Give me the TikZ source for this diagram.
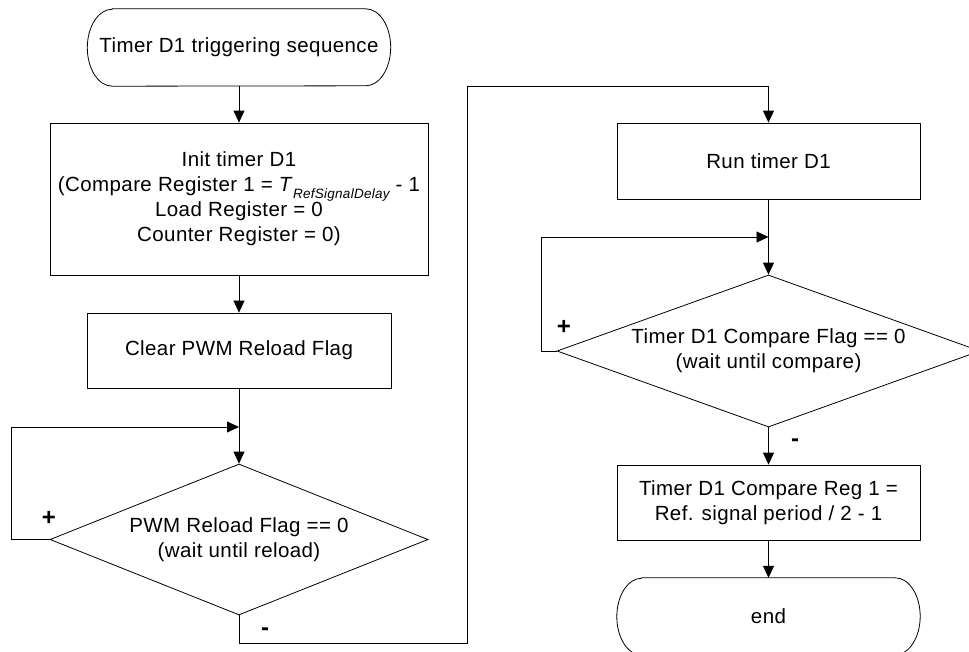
\documentclass[tikz,border=0pt]{standalone}
\usepackage{fontspec}
\setmainfont{Liberation Sans}[LetterSpace=2]
\usetikzlibrary{arrows.meta,shapes.geometric}
\newcommand\termoutline[1]{%
  \draw[conn] ([xshift=25pt]#1.north west) -- ([xshift=-25pt]#1.north east)
    arc[start angle=90,end angle=-90,x radius=25pt,y radius=38.5pt]
    -- ([xshift=25pt]#1.south west)
    arc[start angle=270,end angle=90,x radius=25pt,y radius=38.5pt] -- cycle;}
\begin{document}
\begin{tikzpicture}[x=1pt,y=-1pt,
  every node/.style={font=\fontsize{20.5}{25}\selectfont, align=center, inner sep=0pt},
  conn/.style={line width=0.8pt},
  box/.style={draw, line width=0.8pt, minimum width=303pt, minimum height=76pt},
  term/.style={minimum width=303pt, minimum height=77pt},
  dec/.style={draw, diamond, line width=0.8pt, aspect=2.7},
  arr/.style={conn, -{Triangle[length=12pt,width=11pt]}},
  sign/.style={font=\fontsize{24}{24}\selectfont\bfseries}]
\useasboundingbox (0,0) rectangle (969,651);

% left column
\node[term] (start) at (239,47.5) {Timer D1 triggering sequence};
\termoutline{start}
\node[box, minimum width=378pt, minimum height=152pt] (init) at (239,199)
  {Init timer D1\\(Compare Register 1 = \textit{T}\raisebox{-7pt}{\fontsize{13.5}{14}\selectfont\itshape RefSignalDelay} - 1\\Load Register = 0\\Counter Register = 0)};
\node[box, minimum width=304pt, minimum height=75pt] (clear) at (239,350.5) {Clear PWM Reload Flag};
\node[dec, minimum width=378pt, minimum height=151pt] (d1) at (239,539.5)
  {PWM Reload Flag == 0\\(wait until reload)};

% right column
\node[box, minimum height=76pt] (run) at (768.5,161) {Run timer D1};
\node[dec, minimum width=423pt, minimum height=152pt] (d2) at (768.5,351)
  {Timer D1 Compare Flag == 0\\(wait until compare)};
\node[box, minimum height=75pt] (set) at (768.5,502.5)
  {Timer D1 Compare Reg 1 =\\Ref. signal period / 2 - 1};
\node[term] (end) at (768.5,616.5) {end};
\termoutline{end}

% helper coordinates
\coordinate (j1) at (239,427);
\coordinate (c1) at (467,643);
\coordinate (c2) at (467,86);
\coordinate (j2) at (768.5,237);

% connectors
\draw[arr] (start) -- (init);
\draw[arr] (init) -- (clear);
\draw[arr] (clear) -- (d1);
\draw[arr] (d1.west) -- ++(-38,0) |- (j1);
\draw[arr] (d1.south) |- (c1) -- (c2) -| (run.north);
\draw[arr] (run) -- (d2);
\draw[arr] (d2.west) -- ++(-15,0) |- (j2);
\draw[arr] (d2) -- (set);
\draw[arr] (set) -- (end);

% branch labels
\node[sign] (p1) at (49,518) {+};
\node[sign] (m1) at (265,632) {-};
\node[sign] (p2) at (564,327) {+};
\node[sign] (m2) at (795,443) {-};
\end{tikzpicture}
\end{document}
